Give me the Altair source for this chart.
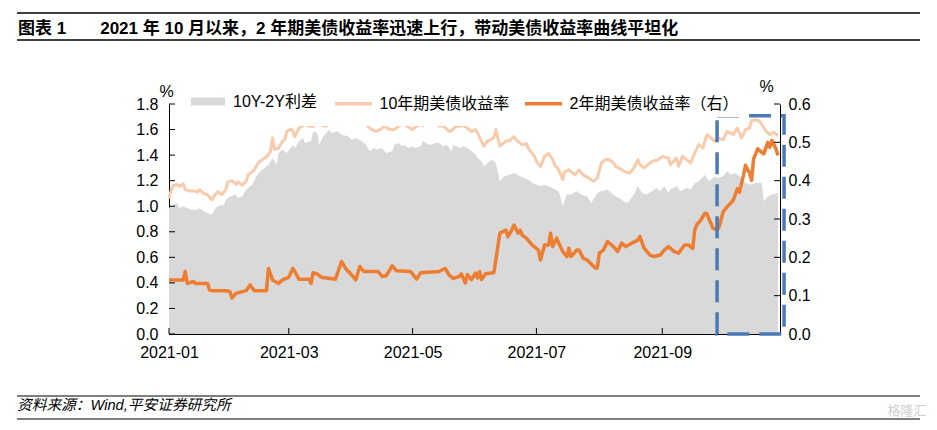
import altair as alt
import pandas as pd

FONT = "Liberation Sans, Arial, Noto Sans CJK SC, sans-serif"

SERIES = ["10Y-2Y利差", "10年期美债收益率", "2年期美债收益率（右）"]
COLORS = ["#d9d9d9", "#f8cbad", "#ed7d31"]

spread_dates = ["2021-01-01", "2021-01-03", "2021-01-05", "2021-01-06", "2021-01-08", "2021-01-10", "2021-01-12", "2021-01-15", "2021-01-16", "2021-01-18", "2021-01-20", "2021-01-22", "2021-01-24", "2021-01-25", "2021-01-28", "2021-01-29", "2021-01-31", "2021-02-03", "2021-02-04", "2021-02-06", "2021-02-08", "2021-02-11", "2021-02-13", "2021-02-15", "2021-02-18", "2021-02-19", "2021-02-21", "2021-02-23", "2021-02-24", "2021-02-26", "2021-02-28", "2021-03-02", "2021-03-03", "2021-03-04", "2021-03-06", "2021-03-08", "2021-03-09", "2021-03-12", "2021-03-13", "2021-03-15", "2021-03-16", "2021-03-18", "2021-03-21", "2021-03-22", "2021-03-25", "2021-03-27", "2021-03-30", "2021-04-01", "2021-04-03", "2021-04-06", "2021-04-08", "2021-04-10", "2021-04-12", "2021-04-13", "2021-04-16", "2021-04-18", "2021-04-21", "2021-04-22", "2021-04-24", "2021-04-26", "2021-04-27", "2021-04-29", "2021-05-01", "2021-05-02", "2021-05-05", "2021-05-06", "2021-05-09", "2021-05-10", "2021-05-12", "2021-05-14", "2021-05-16", "2021-05-18", "2021-05-20", "2021-05-21", "2021-05-24", "2021-05-26", "2021-05-29", "2021-06-01", "2021-06-02", "2021-06-04", "2021-06-05", "2021-06-08", "2021-06-09", "2021-06-11", "2021-06-13", "2021-06-15", "2021-06-18", "2021-06-20", "2021-06-23", "2021-06-25", "2021-06-27", "2021-06-29", "2021-07-03", "2021-07-05", "2021-07-07", "2021-07-09", "2021-07-12", "2021-07-14", "2021-07-16", "2021-07-18", "2021-07-21", "2021-07-23", "2021-07-26", "2021-07-28", "2021-07-31", "2021-08-02", "2021-08-05", "2021-08-07", "2021-08-09", "2021-08-11", "2021-08-13", "2021-08-15", "2021-08-18", "2021-08-20", "2021-08-22", "2021-08-24", "2021-08-27", "2021-08-29", "2021-08-31", "2021-09-02", "2021-09-04", "2021-09-05", "2021-09-08", "2021-09-10", "2021-09-13", "2021-09-15", "2021-09-17", "2021-09-19", "2021-09-22", "2021-09-24", "2021-09-27", "2021-09-28", "2021-10-01", "2021-10-03", "2021-10-05", "2021-10-07", "2021-10-10", "2021-10-12", "2021-10-15", "2021-10-17", "2021-10-20", "2021-10-21", "2021-10-23", "2021-10-25", "2021-10-28"]
spread_values = [0.986, 1.012, 1.025, 0.986, 0.999, 0.986, 0.973, 0.973, 0.986, 0.96, 0.947, 0.934, 0.986, 0.999, 1.012, 1.051, 1.077, 1.09, 1.064, 1.077, 1.13, 1.169, 1.234, 1.273, 1.312, 1.325, 1.378, 1.325, 1.417, 1.443, 1.417, 1.456, 1.482, 1.456, 1.508, 1.534, 1.495, 1.508, 1.586, 1.573, 1.482, 1.547, 1.599, 1.573, 1.586, 1.56, 1.547, 1.521, 1.534, 1.508, 1.482, 1.43, 1.456, 1.443, 1.456, 1.417, 1.43, 1.482, 1.495, 1.469, 1.482, 1.456, 1.469, 1.456, 1.469, 1.508, 1.482, 1.482, 1.495, 1.495, 1.469, 1.482, 1.43, 1.482, 1.456, 1.469, 1.443, 1.404, 1.378, 1.351, 1.312, 1.351, 1.364, 1.338, 1.195, 1.234, 1.247, 1.26, 1.234, 1.221, 1.208, 1.182, 1.156, 1.169, 1.156, 1.143, 1.117, 0.999, 1.091, 1.091, 1.117, 1.091, 1.077, 1.025, 1.104, 1.117, 1.13, 1.104, 1.077, 1.064, 1.038, 1.025, 1.091, 1.156, 1.104, 1.091, 1.117, 1.143, 1.117, 1.156, 1.104, 1.13, 1.156, 1.117, 1.143, 1.13, 1.182, 1.195, 1.247, 1.195, 1.234, 1.221, 1.234, 1.273, 1.247, 1.26, 1.221, 1.182, 1.169, 1.182, 1.182, 1.038, 1.077, 1.091, 1.104]

y10_dates = ["2021-01-01", "2021-01-02", "2021-01-03", "2021-01-05", "2021-01-06", "2021-01-08", "2021-01-09", "2021-01-11", "2021-01-13", "2021-01-15", "2021-01-16", "2021-01-18", "2021-01-20", "2021-01-22", "2021-01-24", "2021-01-25", "2021-01-27", "2021-01-29", "2021-01-30", "2021-02-01", "2021-02-03", "2021-02-04", "2021-02-06", "2021-02-08", "2021-02-09", "2021-02-12", "2021-02-14", "2021-02-16", "2021-02-18", "2021-02-20", "2021-02-21", "2021-02-22", "2021-02-24", "2021-02-26", "2021-02-27", "2021-02-28", "2021-03-02", "2021-03-03", "2021-03-04", "2021-03-06", "2021-03-08", "2021-03-09", "2021-03-11", "2021-03-13", "2021-03-15", "2021-03-16", "2021-03-18", "2021-03-20", "2021-03-22", "2021-03-25", "2021-03-28", "2021-03-31", "2021-04-02", "2021-04-05", "2021-04-07", "2021-04-09", "2021-04-11", "2021-04-13", "2021-04-15", "2021-04-17", "2021-04-20", "2021-04-22", "2021-04-24", "2021-04-26", "2021-04-28", "2021-04-30", "2021-05-01", "2021-05-03", "2021-05-05", "2021-05-06", "2021-05-09", "2021-05-12", "2021-05-14", "2021-05-16", "2021-05-19", "2021-05-21", "2021-05-22", "2021-05-24", "2021-05-26", "2021-05-28", "2021-05-30", "2021-06-01", "2021-06-02", "2021-06-05", "2021-06-07", "2021-06-10", "2021-06-11", "2021-06-13", "2021-06-16", "2021-06-18", "2021-06-20", "2021-06-21", "2021-06-24", "2021-06-26", "2021-06-27", "2021-06-30", "2021-07-01", "2021-07-03", "2021-07-05", "2021-07-07", "2021-07-09", "2021-07-10", "2021-07-12", "2021-07-14", "2021-07-15", "2021-07-17", "2021-07-20", "2021-07-22", "2021-07-24", "2021-07-27", "2021-07-29", "2021-07-31", "2021-08-02", "2021-08-04", "2021-08-06", "2021-08-08", "2021-08-09", "2021-08-12", "2021-08-13", "2021-08-16", "2021-08-18", "2021-08-20", "2021-08-21", "2021-08-23", "2021-08-25", "2021-08-27", "2021-08-30", "2021-09-01", "2021-09-04", "2021-09-05", "2021-09-08", "2021-09-09", "2021-09-11", "2021-09-13", "2021-09-15", "2021-09-17", "2021-09-19", "2021-09-21", "2021-09-23", "2021-09-25", "2021-09-27", "2021-09-28", "2021-10-01", "2021-10-03", "2021-10-06", "2021-10-08", "2021-10-10", "2021-10-12", "2021-10-14", "2021-10-15", "2021-10-17", "2021-10-19", "2021-10-20", "2021-10-22", "2021-10-24", "2021-10-26", "2021-10-28"]
y10_values = [1.06, 1.12, 1.16, 1.17, 1.155, 1.175, 1.13, 1.12, 1.12, 1.11, 1.13, 1.10, 1.09, 1.05, 1.095, 1.115, 1.09, 1.13, 1.19, 1.20, 1.17, 1.19, 1.165, 1.195, 1.245, 1.285, 1.34, 1.365, 1.385, 1.43, 1.535, 1.445, 1.455, 1.51, 1.52, 1.585, 1.605, 1.59, 1.545, 1.61, 1.63, 1.65, 1.625, 1.625, 1.67, 1.66, 1.628, 1.63, 1.70, 1.68, 1.71, 1.74, 1.72, 1.72, 1.68, 1.625, 1.60, 1.585, 1.60, 1.625, 1.60, 1.60, 1.625, 1.65, 1.63, 1.61, 1.60, 1.625, 1.645, 1.63, 1.66, 1.66, 1.625, 1.63, 1.585, 1.60, 1.625, 1.625, 1.633, 1.61, 1.585, 1.60, 1.575, 1.47, 1.51, 1.535, 1.60, 1.47, 1.51, 1.515, 1.545, 1.52, 1.48, 1.49, 1.455, 1.39, 1.35, 1.31, 1.39, 1.415, 1.365, 1.325, 1.285, 1.21, 1.27, 1.285, 1.245, 1.285, 1.245, 1.22, 1.195, 1.22, 1.34, 1.365, 1.364, 1.338, 1.312, 1.286, 1.273, 1.26, 1.30, 1.364, 1.325, 1.30, 1.325, 1.351, 1.364, 1.39, 1.377, 1.325, 1.377, 1.312, 1.39, 1.364, 1.338, 1.417, 1.482, 1.456, 1.56, 1.534, 1.508, 1.534, 1.521, 1.586, 1.56, 1.612, 1.534, 1.60, 1.612, 1.67, 1.677, 1.665, 1.64, 1.59, 1.56, 1.58, 1.55]

y2_dates = ["2021-01-01", "2021-01-08", "2021-01-09", "2021-01-10", "2021-01-13", "2021-01-14", "2021-01-20", "2021-01-21", "2021-01-22", "2021-01-29", "2021-01-31", "2021-02-01", "2021-02-03", "2021-02-08", "2021-02-10", "2021-02-12", "2021-02-18", "2021-02-19", "2021-02-21", "2021-02-24", "2021-02-26", "2021-03-01", "2021-03-03", "2021-03-04", "2021-03-06", "2021-03-11", "2021-03-12", "2021-03-13", "2021-03-15", "2021-03-17", "2021-03-24", "2021-03-27", "2021-03-29", "2021-04-01", "2021-04-03", "2021-04-05", "2021-04-07", "2021-04-14", "2021-04-16", "2021-04-18", "2021-04-21", "2021-04-23", "2021-04-30", "2021-05-03", "2021-05-05", "2021-05-14", "2021-05-17", "2021-05-19", "2021-05-21", "2021-05-24", "2021-05-25", "2021-05-27", "2021-05-28", "2021-05-30", "2021-06-01", "2021-06-02", "2021-06-03", "2021-06-04", "2021-06-06", "2021-06-10", "2021-06-11", "2021-06-13", "2021-06-16", "2021-06-17", "2021-06-18", "2021-06-20", "2021-06-22", "2021-06-23", "2021-06-24", "2021-06-26", "2021-06-29", "2021-07-02", "2021-07-03", "2021-07-05", "2021-07-07", "2021-07-08", "2021-07-09", "2021-07-11", "2021-07-12", "2021-07-14", "2021-07-16", "2021-07-17", "2021-07-18", "2021-07-21", "2021-07-22", "2021-07-24", "2021-07-26", "2021-07-30", "2021-07-31", "2021-08-01", "2021-08-03", "2021-08-05", "2021-08-08", "2021-08-10", "2021-08-12", "2021-08-14", "2021-08-17", "2021-08-20", "2021-08-21", "2021-08-23", "2021-08-26", "2021-08-28", "2021-08-31", "2021-09-02", "2021-09-04", "2021-09-07", "2021-09-09", "2021-09-12", "2021-09-14", "2021-09-16", "2021-09-17", "2021-09-18", "2021-09-20", "2021-09-22", "2021-09-23", "2021-09-24", "2021-09-26", "2021-09-28", "2021-09-29", "2021-10-01", "2021-10-03", "2021-10-06", "2021-10-08", "2021-10-09", "2021-10-11", "2021-10-12", "2021-10-14", "2021-10-15", "2021-10-16", "2021-10-18", "2021-10-20", "2021-10-21", "2021-10-23", "2021-10-24", "2021-10-25", "2021-10-27", "2021-10-28"]
y2_values = [0.141, 0.141, 0.163, 0.132, 0.137, 0.132, 0.132, 0.115, 0.113, 0.113, 0.111, 0.094, 0.106, 0.113, 0.128, 0.113, 0.113, 0.171, 0.141, 0.132, 0.141, 0.148, 0.171, 0.163, 0.143, 0.143, 0.132, 0.160, 0.157, 0.148, 0.143, 0.189, 0.171, 0.154, 0.141, 0.176, 0.163, 0.163, 0.150, 0.152, 0.178, 0.165, 0.163, 0.143, 0.160, 0.163, 0.171, 0.154, 0.145, 0.150, 0.157, 0.133, 0.155, 0.142, 0.159, 0.146, 0.163, 0.142, 0.157, 0.160, 0.193, 0.263, 0.271, 0.254, 0.263, 0.284, 0.263, 0.271, 0.258, 0.250, 0.232, 0.219, 0.193, 0.232, 0.232, 0.263, 0.228, 0.250, 0.237, 0.215, 0.202, 0.224, 0.202, 0.219, 0.219, 0.198, 0.193, 0.172, 0.172, 0.211, 0.219, 0.241, 0.228, 0.215, 0.237, 0.228, 0.237, 0.245, 0.254, 0.224, 0.206, 0.202, 0.206, 0.219, 0.228, 0.215, 0.211, 0.232, 0.232, 0.223, 0.271, 0.285, 0.297, 0.315, 0.314, 0.300, 0.276, 0.271, 0.279, 0.319, 0.332, 0.349, 0.379, 0.370, 0.414, 0.440, 0.420, 0.401, 0.457, 0.483, 0.474, 0.470, 0.500, 0.487, 0.505, 0.483, 0.466]

left_ticks = [0.0, 0.2, 0.4, 0.6, 0.8, 1.0, 1.2, 1.4, 1.6, 1.8]
right_ticks = [0.0, 0.1, 0.2, 0.3, 0.4, 0.5, 0.6]
month_ticks = ["2021-01-01", "2021-03-01", "2021-05-01", "2021-07-01", "2021-09-01"]
x_domain = ["2021-01-01", "2021-10-29"]
box_dates = ["2021-09-28", "2021-10-31"]
box_values = [0.0, 1.708]

TITLE = "图表 1\u2003\u20032021 年 10 月以来，2 年期美债收益率迅速上行，带动美债收益率曲线平坦化"
SOURCE = "资料来源：Wind,平安证券研究所"
WATERMARK = "格隆汇"


def dt(s):
    y, m, d = (int(p) for p in s.split("-"))
    return alt.DateTime(year=y, month=m, date=d, utc=True)


W, H = 611, 230

xscale = alt.Scale(type="utc", domain=[dt(s) for s in x_domain])
lscale = alt.Scale(domain=[left_ticks[0], left_ticks[-1]], nice=False, zero=True)
rscale = alt.Scale(domain=[right_ticks[0], right_ticks[-1]], nice=False, zero=True)
fscale = alt.Scale(domain=SERIES[:1], range=COLORS[:1])
sscale = alt.Scale(domain=SERIES[1:], range=COLORS[1:])

AX = dict(labelFont=FONT, labelFontSize=16, labelColor="#000", domainColor="#000",
          domainWidth=1, ticks=False, grid=False)
TT = dict(titleFont=FONT, titleFontSize=16, titleFontWeight="normal", titleColor="#000",
          titleAngle=0, titleAlign="center", titleBaseline="middle")
xaxis = alt.Axis(values=[dt(s) for s in month_ticks], format="%Y-%m", labelFlush=False,
                 labelOverlap=False, labelPadding=10, title=None, **AX)
laxis = alt.Axis(values=left_ticks, format=".1f", orient="left", labelPadding=11,
                 title="%", titleX=-3, titleY=-13, **AX, **TT)
raxis = alt.Axis(values=right_ticks, format=".1f", orient="right", labelPadding=8,
                 title="%", titleX=-14, titleY=-18, **AX, **TT)

legend_common = dict(orient="none", legendY=-26, direction="horizontal", title=None,
                     fillColor="white", padding=5, symbolSize=1369, labelFont=FONT,
                     labelFontSize=16, labelColor="#000", labelLimit=400, zindex=1)
fill_legend = alt.Legend(legendX=15.5, symbolType="M-0.92,-0.22H0.92V0.22H-0.92Z",
                         symbolStrokeWidth=0, symbolOpacity=1, labelOffset=6.5, **legend_common)
stroke_legend = alt.Legend(legendX=159, symbolType="stroke", symbolStrokeWidth=3.5,
                           symbolOpacity=1, labelOffset=5.5, columnPadding=8, **legend_common)

fill_enc = alt.Fill("series:N", scale=fscale, legend=fill_legend)
stroke_enc = alt.Stroke("series:N", scale=sscale, legend=stroke_legend)

spread_df = pd.DataFrame({"d": spread_dates, "v": spread_values, "series": SERIES[0]})
y10_df = pd.DataFrame({"d": y10_dates, "v": y10_values, "series": SERIES[1]})
y2_df = pd.DataFrame({"d": y2_dates, "v": y2_values, "series": SERIES[2]})

area = alt.Chart(spread_df).mark_area(opacity=1).encode(
    x=alt.X("d:T", scale=xscale, axis=xaxis),
    y=alt.Y("v:Q", scale=lscale, axis=laxis),
    fill=fill_enc,
)
line10 = alt.Chart(y10_df).mark_line(strokeWidth=3, strokeJoin="round").encode(
    x=alt.X("d:T", scale=xscale, axis=xaxis),
    y=alt.Y("v:Q", scale=lscale, axis=laxis),
    stroke=stroke_enc,
)
lticks = alt.Chart(pd.DataFrame({"v": left_ticks})).mark_rule(color="#000", strokeWidth=1).encode(
    y=alt.Y("v:Q", scale=lscale, axis=laxis),
    x=alt.value(0), x2=alt.value(6),
)
xticks = alt.Chart(pd.DataFrame({"d": month_ticks})).mark_rule(color="#000", strokeWidth=1).encode(
    x=alt.X("d:T", scale=xscale, axis=xaxis),
    y=alt.value(H - 6), y2=alt.value(H),
)
left_group = alt.layer(area, line10, lticks, xticks)

line2 = alt.Chart(y2_df).mark_line(strokeWidth=3.5, strokeJoin="round").encode(
    x=alt.X("d:T", scale=xscale, axis=xaxis),
    y=alt.Y("v:Q", scale=rscale, axis=raxis),
    stroke=stroke_enc,
)
rticks = alt.Chart(pd.DataFrame({"v": right_ticks})).mark_rule(color="#000", strokeWidth=1).encode(
    y=alt.Y("v:Q", scale=rscale, axis=raxis),
    x=alt.value(W - 6), x2=alt.value(W),
)
right_group = alt.layer(line2, rticks)

one = pd.DataFrame({"t": [TITLE], "s": [SOURCE], "w": [WATERMARK]})

# white band behind the legend, which hides the top of the plot as in the original
legend_mask = alt.Chart(one).mark_rect(color="white", opacity=1).encode(
    x=alt.value(14), x2=alt.value(559), y=alt.value(-26), y2=alt.value(22))

box = alt.Chart(pd.DataFrame({"d0": [box_dates[0]], "d1": [box_dates[1]],
                              "b0": [box_values[0]], "b1": [box_values[1]]})).mark_rect(
    filled=False, stroke="#4a7ab5", strokeWidth=3.5, strokeDash=[22, 10]
).encode(
    x=alt.X("d0:T", scale=xscale, axis=xaxis), x2="d1:T",
    y=alt.Y("b0:Q", scale=lscale, axis=None), y2="b1:Q",
)

title_txt = alt.Chart(one).mark_text(align="left", baseline="middle", font=FONT, fontSize=17,
                                     fontWeight="bold", color="#000").encode(
    text="t:N", x=alt.value(-151), y=alt.value(-75))
source_txt = alt.Chart(one).mark_text(align="left", baseline="middle", font=FONT, fontSize=14.7,
                                      fontStyle="italic", color="#000").encode(
    text="s:N", x=alt.value(-152), y=alt.value(302))
wm_txt = alt.Chart(one).mark_text(align="center", baseline="middle", font=FONT, fontSize=13,
                                  color="#cfcfcf").encode(
    text="w:N", x=alt.value(738), y=alt.value(307))


def hline(ypos, width):
    return alt.Chart(one).mark_rule(color="#000", strokeWidth=width).encode(
        x=alt.value(-152), x2=alt.value(751), y=alt.value(ypos))


deco = [title_txt, source_txt, wm_txt, hline(-91, 1.5), hline(-64, 1.5), hline(292, 1.2), hline(315, 1.2)]

chart = alt.layer(left_group, right_group, legend_mask, box, *deco).resolve_scale(
    y="independent"
).properties(
    width=W, height=H, background="white",
    autosize=alt.AutoSizeParams(type="none"),
    padding={"left": 161, "top": 96, "right": 149, "bottom": 88},
).configure_view(stroke=None)

chart.save("out.html", embed_options={"renderer": "svg", "actions": False})
